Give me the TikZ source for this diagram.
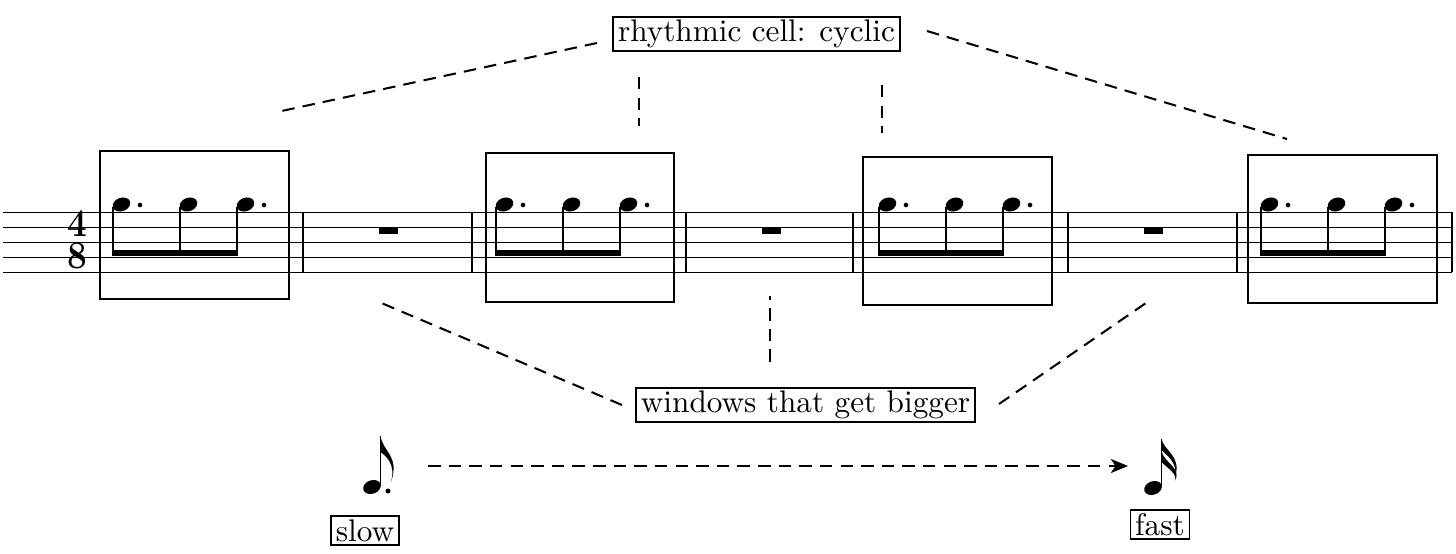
\documentclass[tikz,border=0pt]{standalone}
\usetikzlibrary{arrows.meta}

\tikzset{
    tag/.style={draw,line width=0.6pt,inner xsep=1.5pt,inner ysep=1pt,font=\fontsize{10}{12}\selectfont},
    window/.style={draw,line width=0.65pt},
    guide/.style={line width=0.65pt,dash pattern=on 4pt off 2.6pt},
    staffline/.style={line width=0.55pt},
    barline/.style={line width=0.65pt},
    stem/.style={line width=0.5pt},
    timesig/.style={inner sep=0,align=center,xscale=0.9,transform shape,font=\bfseries\fontsize{12.5}{10}\selectfont},
}

\newcommand
    {\nhead}
    {%
        ellipse [x radius=2.9pt,y radius=2.15pt,rotate=20]%
    }

\begin{document}
\begin{tikzpicture}[x=0.32pt,y=-0.32pt]
        \useasboundingbox (0,0) rectangle (1456,554);

        % 1. Staff and bar lines
        \foreach \k in {0,...,4}
            \draw[staffline] (3,{212.5+15*\k}) -- (1452,{212.5+15*\k});
        \foreach \b in {303,472,686,853,1068,1237,1452}
            \draw[barline] (\b,212.5) -- (\b,272.5);

        % time signature 4/8
        \node (meter) at (77,240) [timesig] {4\\8};

        % 2. Beamed cells: dotted eighth, eighth, dotted eighth
        \foreach \s in {113,496,879,1261} {
            \foreach \dx in {0,67,124} {
                \fill (\s+\dx+8.5,204.5) \nhead;
                \draw[stem] (\s+\dx,207) -- (\s+\dx,256);
            }
            \fill (\s-0.7,250) rectangle (\s+124.7,256.5);
            \fill (\s+27,205) circle [radius=0.75pt];
            \fill (\s+151,205) circle [radius=0.75pt];
        }

        % bar rests in the empty measures
        \foreach \r in {388.5,771,1153}
            \fill (\r-9.5,228) rectangle (\r+9.5,234);

        % 3. Windows round the cells
        \foreach \l/\t/\rr/\bb in {100/151/289/299,486/153/674/302,863/157/1052/305,1248/155/1437/303}
            \draw[window] (\l,\t) rectangle (\rr,\bb);

        % 4. Labels
        \node (cyc) at (756.5,34) [tag] {rhythmic cell: cyclic};
        \node (win) at (805.5,405) [tag] {windows that get bigger};
        \node (slow) at (365,530.5) [tag] {slow};
        \node (fast) at (1160,524.5) [tag] {fast};

        % ends of the guide lines
        \coordinate (cA) at (597,43);   \coordinate (cA1) at (277,112);
        \coordinate (cB) at (639,77);   \coordinate (cB1) at (639,126);
        \coordinate (cC) at (882,85);   \coordinate (cC1) at (882,133);
        \coordinate (cD) at (927,31);   \coordinate (cD1) at (1287,139);
        \coordinate (wA) at (622,405);  \coordinate (wA1) at (379,302);
        \coordinate (wB) at (770,362);  \coordinate (wB1) at (770,296);
        \coordinate (wC) at (999,404);  \coordinate (wC1) at (1146,303);

        \draw[guide] (cA) -- (cA1);
        \draw[guide] (cB) -- (cB1);
        \draw[guide] (cC) -- (cC1);
        \draw[guide] (cD) -- (cD1);
        \draw[guide] (wA) -- (wA1);
        \draw[guide] (wB) -- (wB1);
        \draw[guide] (wC) -- (wC1);

        % 5. Tempo: dotted eighth -> sixteenth
        \fill (372,487) \nhead;
        \draw[stem] (380.5,486) -- (380.5,436);
        \fill (380.5,436) .. controls (383,452) and (400,456) .. (391,482)
            .. controls (396,464) and (386,456) .. (380.5,452) -- cycle;
        \fill (388,491) circle [radius=0.8pt];

        \fill (1153,488) \nhead;
        \draw[stem] (1161.5,487) -- (1161.5,439);
        \foreach \f in {0,12}
            \fill (1161.5,439+\f) .. controls (1164,451+\f) and (1182,456+\f) .. (1175,477+\f*0.3)
                .. controls (1178,462+\f) and (1166,455+\f) .. (1161.5,450+\f) -- cycle;

        \coordinate (go) at (428,466);
        \coordinate (stop) at (1128,466);
        \draw[guide,-{Stealth[length=5.5pt,width=4.5pt,inset=1.5pt]}] (go) -- (stop);

    \end{tikzpicture}
\end{document}
